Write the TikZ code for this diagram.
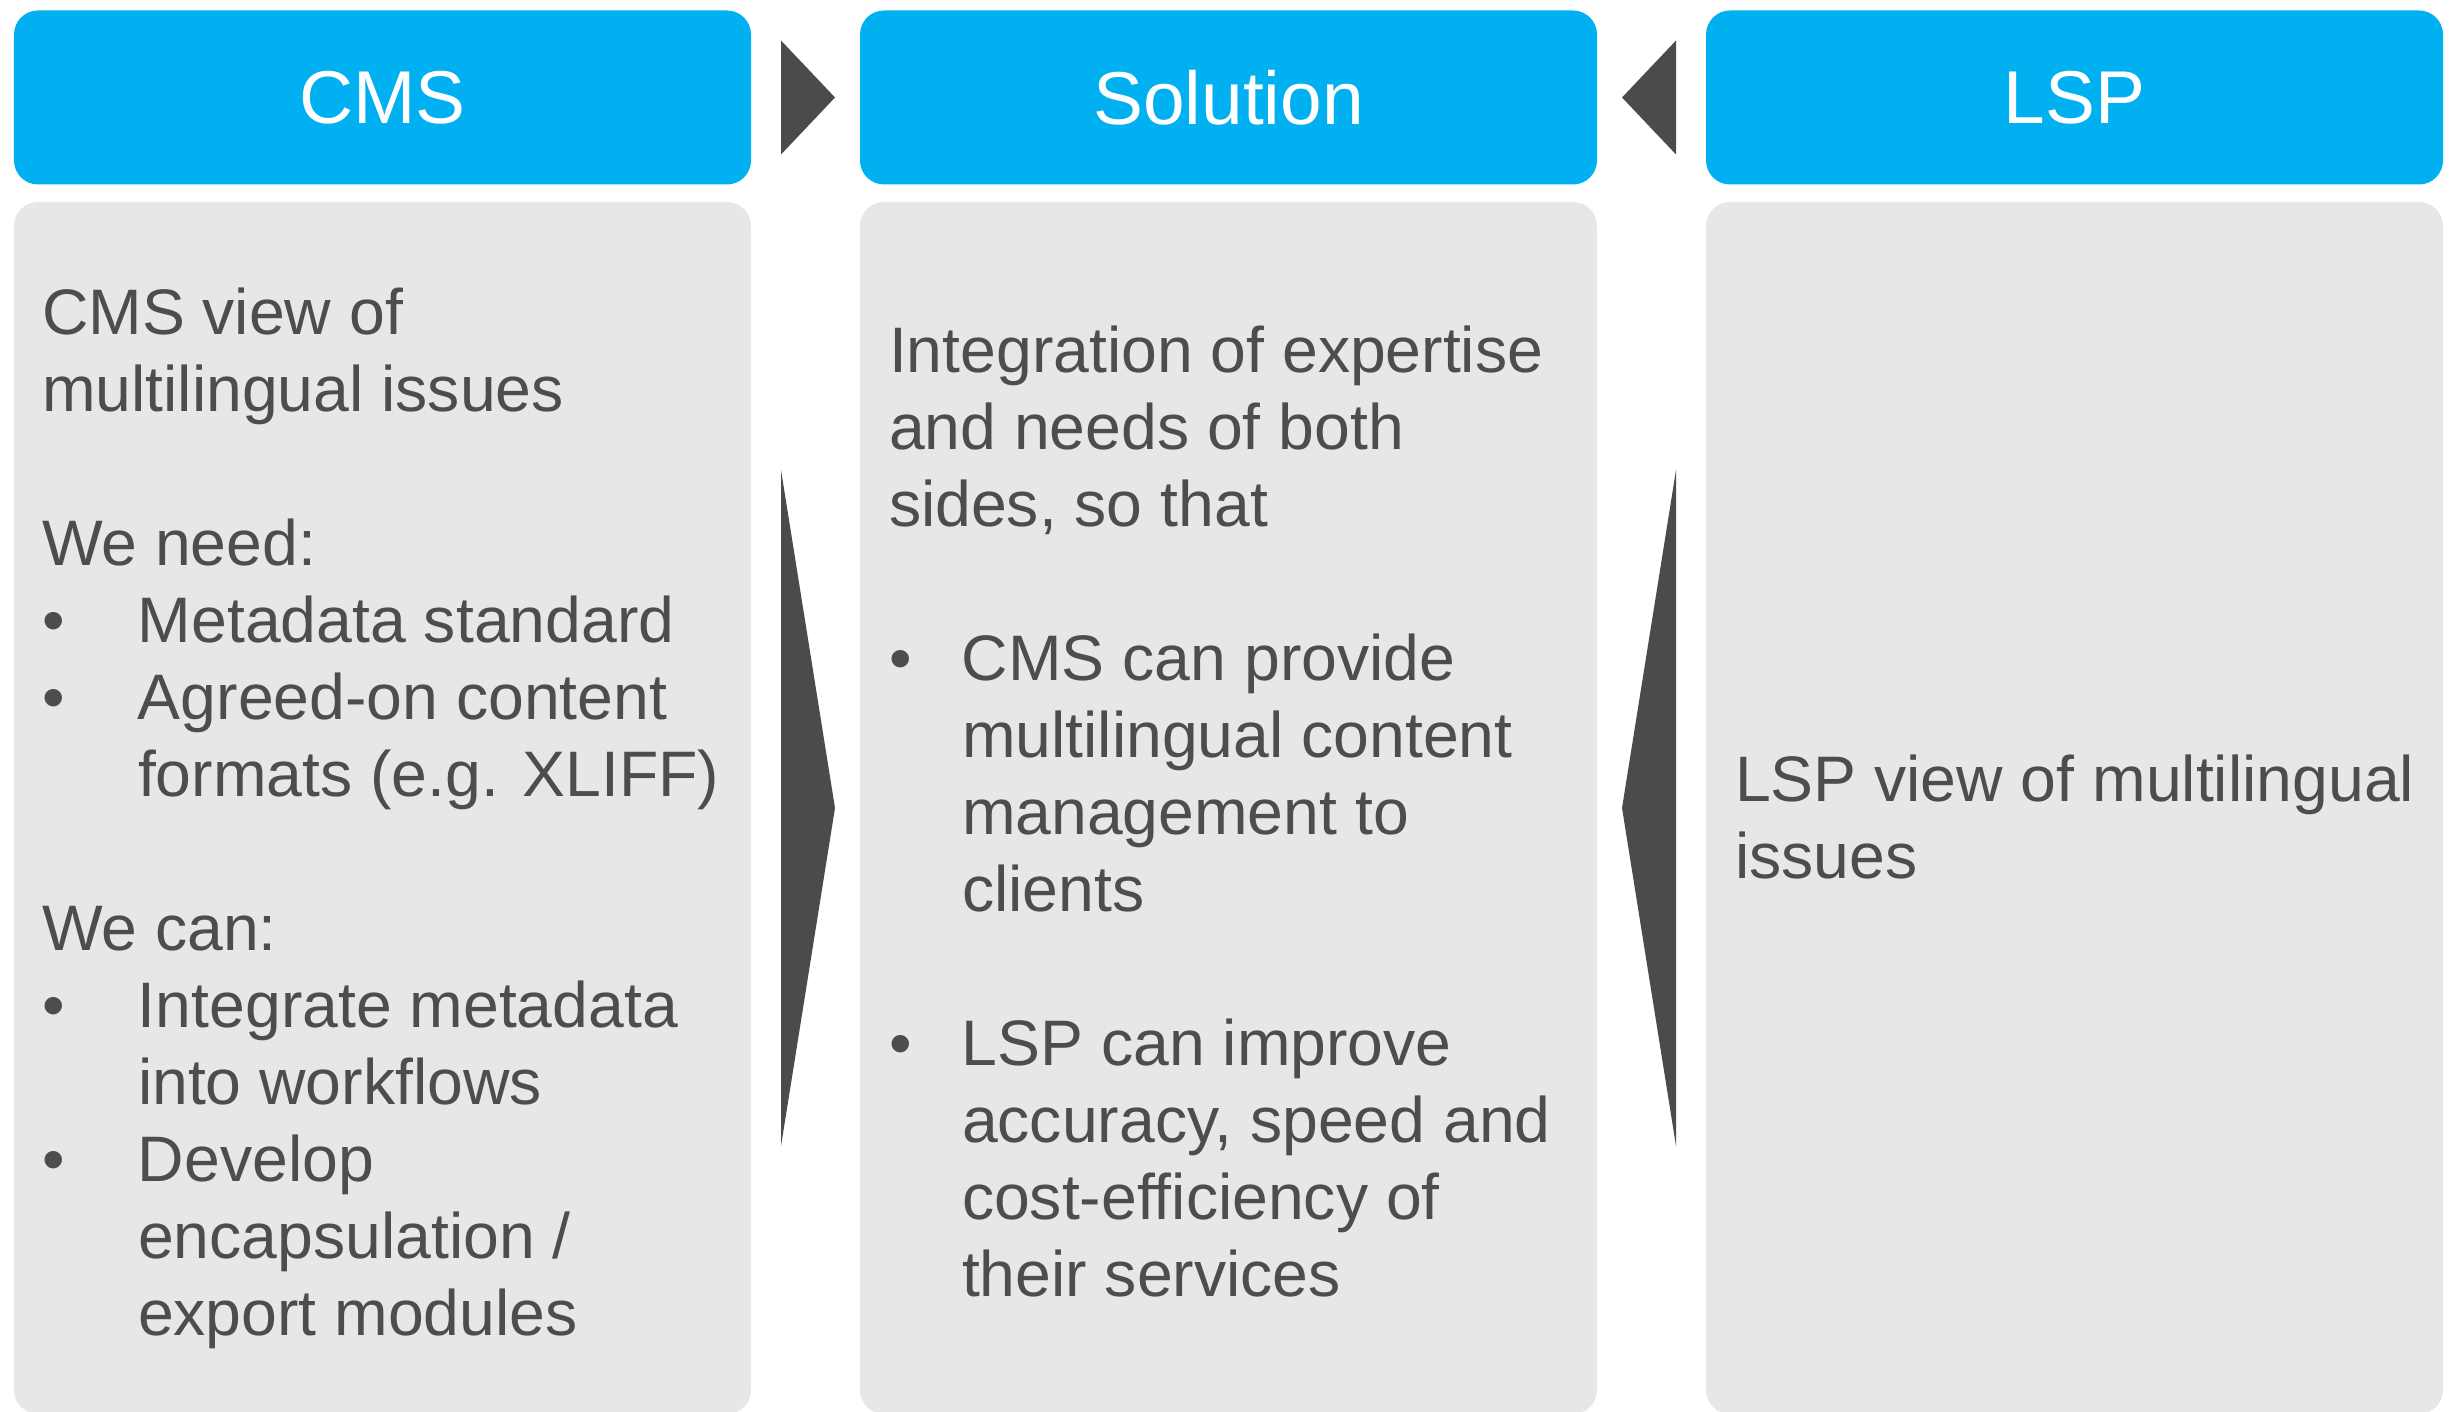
\documentclass[tikz,border=0pt]{standalone}
\usepackage{fontspec}
\setmainfont{Liberation Sans}
\usepackage{tikz}
\usetikzlibrary{
positioning,
}
\definecolor{headblue}{HTML}{00B0F0}
\definecolor{panelgray}{HTML}{E7E7E7}
\definecolor{textgray}{HTML}{4D4D4D}
\definecolor{arrowgray}{HTML}{4B4B4B}
\tikzset{
node distance=1.09cm,
outer sep=0pt,
head/.style={rectangle, rounded corners=0.24cm, fill=headblue, text=white,
  minimum width=7.37cm, minimum height=1.74cm,
  font=\fontsize{21.3pt}{25pt}\selectfont},
panel/.style={rectangle, rounded corners=0.24cm, fill=panelgray,
  minimum width=7.37cm, minimum height=12.12cm},
% anchored on the baseline of the last line
body/.style={align=left, anchor=base west, inner sep=0pt, text=textgray,
  font=\fontsize{18.3pt}{21.9pt}\selectfont},
chevron/.style={fill=arrowgray},
}
% bullet and the hanging gap after it
\newcommand{\bul}[1][0.96cm]{\makebox[#1][l]{\textbullet}}
\newcommand{\bulgap}[1][0.96cm]{\hspace*{#1}}
\newcommand{\sbul}{\bul[0.73cm]}
\newcommand{\sgap}{\bulgap[0.73cm]}

\begin{document}
\begin{tikzpicture}
    \useasboundingbox (0,0) rectangle (24.57,-14.12);

    \node [head] (cms) at (3.825,-0.975) {CMS};
    \node [head, right=of cms] (sol) {Solution};
    \node [head, right=of sol] (lsp) {LSP};

    \node [panel, below=0.175cm of cms] (cmsbox) {};
    \node [panel, below=0.175cm of sol] (solbox) {};
    \node [panel, below=0.175cm of lsp] (lspbox) {};

    % chevrons between the columns
    \fill [chevron] ([xshift=0.30cm, yshift=0.57cm]cms.east) -- ([xshift=0.84cm]cms.east)
        -- ([xshift=0.30cm, yshift=-0.57cm]cms.east) -- cycle;
    \fill [chevron] ([xshift=-0.30cm, yshift=0.57cm]lsp.west) -- ([xshift=-0.84cm]lsp.west)
        -- ([xshift=-0.30cm, yshift=-0.57cm]lsp.west) -- cycle;
    \fill [chevron] ([xshift=0.30cm, yshift=3.38cm]cmsbox.east) -- ([xshift=0.84cm]cmsbox.east)
        -- ([xshift=0.30cm, yshift=-3.38cm]cmsbox.east) -- cycle;
    \fill [chevron] ([xshift=-0.30cm, yshift=3.38cm]lspbox.west) -- ([xshift=-0.84cm]lspbox.west)
        -- ([xshift=-0.30cm, yshift=-3.38cm]lspbox.west) -- cycle;

    \node [body] (cmstext) at ([xshift=0.28cm, yshift=-11.33cm]cmsbox.north west) {
        CMS view of\\
        multilingual issues\\[\baselineskip]
        We need:\\
        \bul Metadata standard\\
        \bul Agreed-on content\\
        \bulgap formats (e.g. XLIFF)\\[\baselineskip]
        We can:\\
        \bul Integrate metadata\\
        \bulgap into workflows\\
        \bul Develop\\
        \bulgap encapsulation /\\
        \bulgap export modules};

    \node [body] (soltext) at ([xshift=0.29cm, yshift=-10.94cm]solbox.north west) {
        Integration of expertise\\
        and needs of both\\
        sides, so that\\[\baselineskip]
        \sbul CMS can provide\\
        \sgap multilingual content\\
        \sgap management to\\
        \sgap clients\\[\baselineskip]
        \sbul LSP can improve\\
        \sgap accuracy, speed and\\
        \sgap cost-efficiency of\\
        \sgap their services};

    \node [body] (lsptext) at ([xshift=0.29cm, yshift=-6.76cm]lspbox.north west) {
        LSP view of multilingual\\
        issues};
\end{tikzpicture}
\end{document}
